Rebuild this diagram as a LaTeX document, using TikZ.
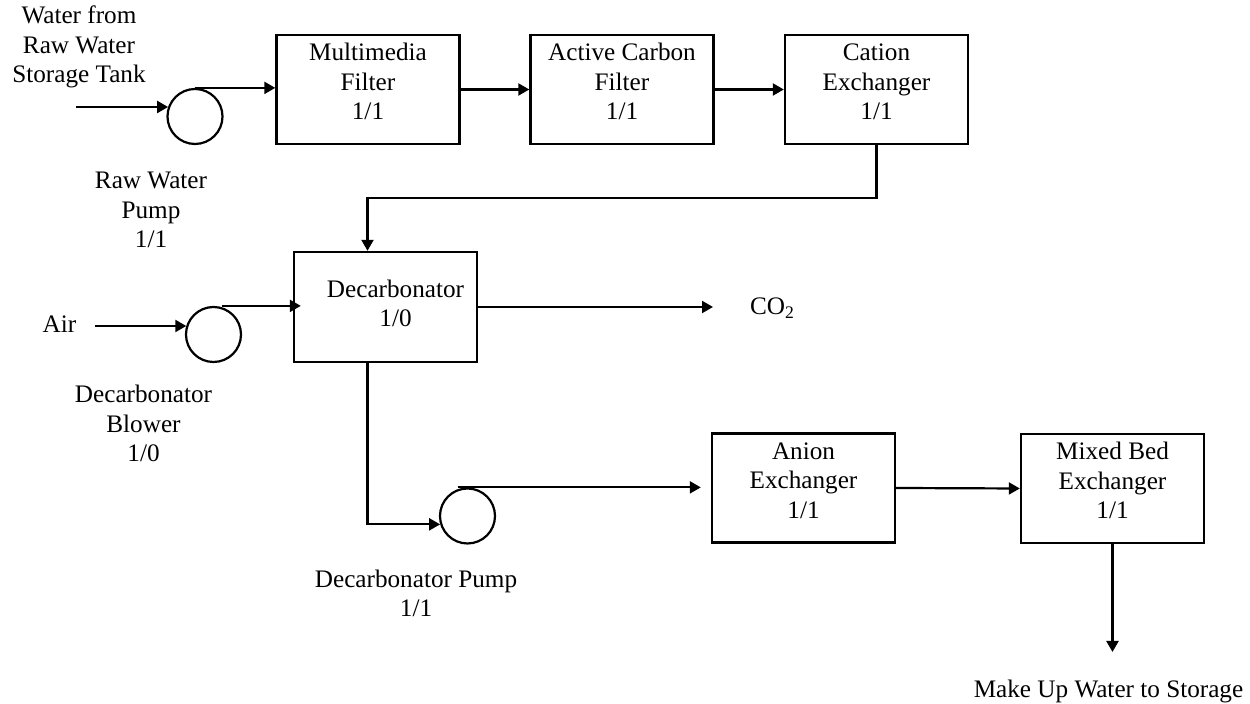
\documentclass[tikz,border=0pt]{standalone}
\usepackage{fontspec}
\setmainfont{Liberation Serif}
\usetikzlibrary{arrows.meta}
\begin{document}
\begin{tikzpicture}[x=0.5pt,y=-0.5pt,
  every node/.style={font=\fontsize{12.6}{14.8}\selectfont},
  unit/.style={draw,line width=1.2pt,minimum width=91.5pt,minimum height=54.5pt,
    align=center,inner sep=0pt,text height=42.5pt,text depth=12pt},
  machine/.style={draw,circle,line width=1.1pt,minimum size=27.5pt,inner sep=0pt},
  caption/.style={align=center,anchor=base,inner sep=0pt},
  flow/.style={line width=1.1pt,-{Triangle[length=5.5pt,width=6pt]}}
]
\useasboundingbox (0,0) rectangle (1250,704);

% treatment units
\node[unit] (mm)  at (368,89.5)    {Multimedia\\Filter\\1/1};
\node[unit] (ac)  at (622,89.5)    {Active Carbon\\Filter\\1/1};
\node[unit] (cat) at (876.5,89.5)  {Cation\\Exchanger\\1/1};
\node[unit,text height=37.5pt,text depth=17.5pt] (dec) at (385.5,307)
  {\hspace*{10pt}Decarbonator\\\hspace*{10pt}1/0};
\node[unit] (an)  at (803.5,488)   {Anion\\Exchanger\\1/1};
\node[unit] (mb)  at (1112.5,488.5) {Mixed Bed\\Exchanger\\1/1};

% pumps and blower
\node[machine] (rwp) at (195,116.5) {};
\node[machine] (blw) at (213.5,334.5) {};
\node[machine] (dp)  at (467.5,516) {};

% captions (anchored at the baseline of their last line)
\node[caption] (src)  at (79,83)      {Water from\\Raw Water\\Storage Tank};
\node[caption] (rwpl) at (151,248)    {Raw Water\\Pump\\1/1};
\node[caption] (air)  at (59.5,333)   {Air};
\node[caption] (blwl) at (143.5,462)  {Decarbonator\\Blower\\1/0};
\node[caption] (dpl)  at (416,617)    {Decarbonator Pump\\1/1};
\node[caption] (co2)  at (772.5,315)  {CO\textsubscript{2}};
\node[caption] (mu)   at (1108.5,698) {Make Up Water to Storage};

% free ends and bends
\coordinate (in1) at (76,107);
\coordinate (in2) at (95,326);
\coordinate (j1) at (367.5,198);
\coordinate (co2end) at (713,307);
\coordinate (out) at (1112.5,652);

% flow lines
\draw[flow] (in1) -- (in1 -| rwp.160);
\draw[flow] (rwp.north) -- (rwp.north -| mm.west);
\draw[flow] (mm.east) -- (ac.west);
\draw[flow] (ac.east) -- (cat.west);
\draw[flow] (cat.south) |- (j1) -- (j1 |- dec.north);
\draw[flow] (in2) -- (in2 -| blw.162);
\draw[flow] ([xshift=4pt]blw.north) -- ([xshift=4pt]blw.north -| dec.west);
\draw[flow] (dec.east) -- (co2end);
\draw[flow] (j1 |- dec.south) |- (dp.197);
\draw[flow] ([xshift=-5pt]dp.north) -- ([xshift=-5pt]dp.north -| an.west);
\draw[flow] (an.east) -- (mb.west);
\draw[flow] (mb.south) -- (out);
\end{tikzpicture}
\end{document}
